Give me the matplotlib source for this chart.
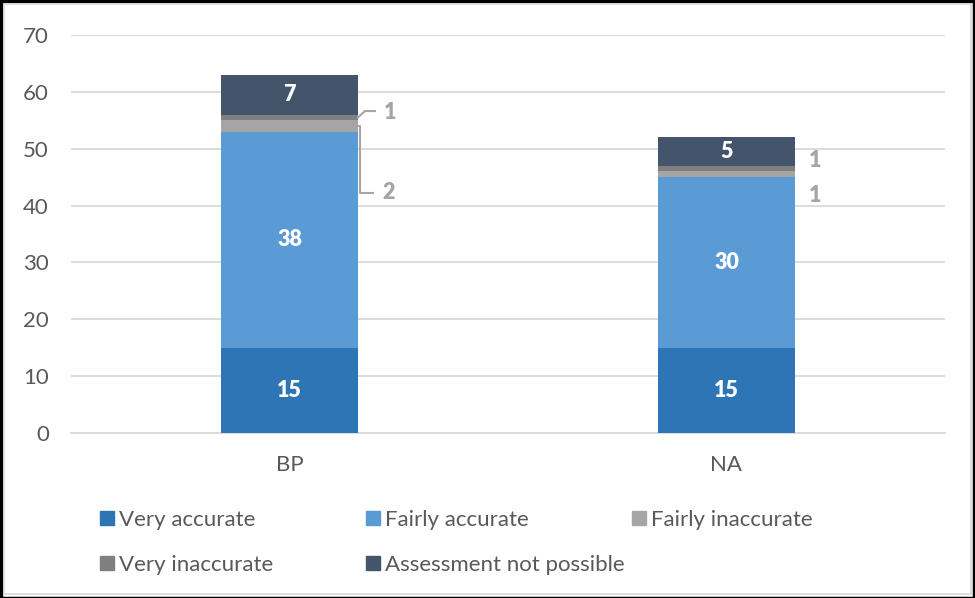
import matplotlib
matplotlib.use("Agg")
import matplotlib.pyplot as plt
from matplotlib.patches import Rectangle
from matplotlib.lines import Line2D
import numpy as np

plt.rcParams['font.family'] = ['Lato', 'DejaVu Sans']

categories = ["BP", "NA"]
series_names = ["Very accurate", "Fairly accurate", "Fairly inaccurate",
                "Very inaccurate", "Assessment not possible"]
values = {
    "Very accurate": [15, 15],
    "Fairly accurate": [38, 30],
    "Fairly inaccurate": [2, 1],
    "Very inaccurate": [1, 1],
    "Assessment not possible": [7, 5],
}
colors = {
    "Very accurate": "#2E75B6",
    "Fairly accurate": "#5B9BD5",
    "Fairly inaccurate": "#A5A5A5",
    "Very inaccurate": "#7F7F7F",
    "Assessment not possible": "#44546A",
}
y_ticks = [0, 10, 20, 30, 40, 50, 60, 70]

W, H = 975, 598
fig = plt.figure(figsize=(W / 100, H / 100), dpi=100)
ax = fig.add_axes([71 / W, (H - 433) / H, (945 - 71) / W, (433 - 35) / H])

x = np.arange(len(categories))
bw = 137 / 437
bottoms = np.zeros(len(categories))
seg = {}
for name in series_names:
    v = np.array(values[name], dtype=float)
    ax.bar(x, v, bw, bottom=bottoms, color=colors[name], zorder=3)
    seg[name] = (bottoms.copy(), v)
    bottoms = bottoms + v

LBL = 15.5
# inside labels (white)
for name in ["Very accurate", "Fairly accurate", "Assessment not possible"]:
    b, v = seg[name]
    for i in range(len(categories)):
        ax.text(x[i], b[i] + v[i] / 2, f"{int(v[i])}", ha="center", va="center",
                color="white", fontsize=LBL, fontweight="heavy", zorder=5)

ax.set_xlim(-0.5, 1.5)
ax.set_ylim(0, 70)
ax.set_yticks(y_ticks)
ax.set_xticks(x)
ax.set_xticklabels(categories)
ax.tick_params(axis="both", length=0, labelsize=16, colors="#595959")
ax.tick_params(axis="y", pad=16)
ax.tick_params(axis="x", pad=16)
ax.grid(axis="y", color="#D9D9D9", linewidth=1.3, zorder=0)
for s in ["top", "right", "left"]:
    ax.spines[s].set_visible(False)
ax.spines["bottom"].set_color("#D9D9D9")
ax.spines["bottom"].set_linewidth(1.3)
ax.set_axisbelow(True)

fig.canvas.draw()
grey = "#A5A5A5"

def outside_label(i, name, text_off, leader=None):
    b, v = seg[name]
    ax_pt = ax.transData.transform((x[i] + bw / 2, b[i] + v[i] / 2))
    if leader:
        xs = [ax_pt[0] + dx for dx, dy in leader]
        ys = [ax_pt[1] + dy for dx, dy in leader]
        fig.add_artist(Line2D(xs, ys, transform=None, color=grey, lw=1.5, zorder=6))
    tx, ty = ax_pt[0] + text_off[0], ax_pt[1] + text_off[1]
    fig.text(tx / W, ty / H, f"{int(v[i])}", ha="center", va="center",
             color=grey, fontsize=LBL, fontweight="heavy")

outside_label(0, "Very inaccurate", (32, 4.5), [(0, 0), (7, 6.4), (17, 6.4)])
outside_label(0, "Fairly inaccurate", (31, -67), [(1, 0), (2, 0), (2, -67), (15, -67)])
outside_label(1, "Very inaccurate", (20, 8.6))
outside_label(1, "Fairly inaccurate", (20, -20.7))

# legend
legend_pos = [(100, 517.5), (366, 517.5), (632, 517.5), (100, 563), (366, 563)]
for name, (lx, ly) in zip(series_names, legend_pos):
    fig.add_artist(Rectangle((lx / W, (H - ly - 7) / H), 14 / W, 14 / H,
                             transform=fig.transFigure, color=colors[name]))
    fig.text((lx + 19) / W, (H - ly) / H, name, ha="left", va="center_baseline",
             color="#595959", fontsize=16)

# border
fig.add_artist(Rectangle((0.5 / W, 0.5 / H), (W - 1.5) / W, (H - 1.5) / H,
                         transform=fig.transFigure, fill=False, ec="black", lw=2.5))
fig.add_artist(Rectangle((4 / W, 4 / H), (W - 8) / W, (H - 8) / H,
                         transform=fig.transFigure, fill=False, ec="#D9D9D9", lw=1.2))

fig.savefig("out.png", dpi=100)
